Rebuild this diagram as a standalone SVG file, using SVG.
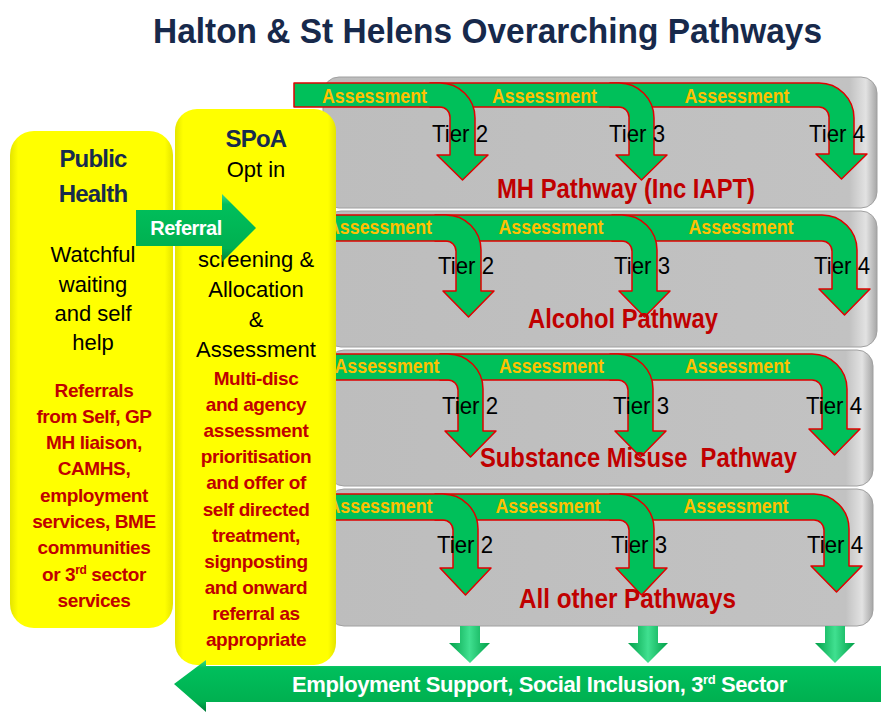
<svg xmlns="http://www.w3.org/2000/svg" width="881" height="712" viewBox="0 0 881 712">
<defs>
<linearGradient id="grayG" x1="0" y1="0" x2="1" y2="0">
<stop offset="0" stop-color="#BDBDBD"/>
<stop offset="0.95" stop-color="#C2C2C2"/>
<stop offset="0.98" stop-color="#E2E2E2"/>
<stop offset="1" stop-color="#A6A6A6"/>
</linearGradient>
<linearGradient id="yelG" x1="0" y1="0" x2="1" y2="0">
<stop offset="0" stop-color="#E4E400"/>
<stop offset="0.05" stop-color="#FFFF00"/>
<stop offset="0.95" stop-color="#FFFF00"/>
<stop offset="1" stop-color="#E4E400"/>
</linearGradient>
<linearGradient id="barG" x1="0" y1="0" x2="0" y2="1">
<stop offset="0" stop-color="#3FD98A"/>
<stop offset="0.15" stop-color="#00BF5C"/>
<stop offset="0.8" stop-color="#00B050"/>
<stop offset="1" stop-color="#007A38"/>
</linearGradient>
<linearGradient id="downG" x1="0" y1="0" x2="1" y2="0">
<stop offset="0" stop-color="#00A048"/>
<stop offset="0.5" stop-color="#40E090"/>
<stop offset="1" stop-color="#00A048"/>
</linearGradient>
<style>
.row{fill:url(#grayG);stroke:#A0A0A0;stroke-width:1}
.band{fill:#00C05A;stroke:#E00000;stroke-width:1.5;stroke-linejoin:round}
.ass{font-family:"Liberation Sans",Arial,sans-serif;font-weight:bold;font-size:20px;fill:#FFC000;text-anchor:middle}
.tier{font-family:"Liberation Sans",Arial,sans-serif;font-size:24px;fill:#000}
.pt{font-family:"Liberation Sans",Arial,sans-serif;font-weight:bold;font-size:27px;fill:#C00000}
.box{fill:url(#yelG)}
.hd{font-family:"Liberation Sans",Arial,sans-serif;font-weight:bold;font-size:24px;fill:#172B4D;text-anchor:middle;letter-spacing:-0.8px}
.bk{font-family:"Liberation Sans",Arial,sans-serif;font-size:22px;fill:#000;text-anchor:middle}
.rd{font-family:"Liberation Sans",Arial,sans-serif;font-weight:bold;font-size:19px;fill:#C00000;text-anchor:middle;letter-spacing:-0.4px}
.down{fill:url(#downG)}
</style>
</defs>
<rect width="881" height="712" fill="#FFFFFF"/>

<g id="title">
<text x="153" y="43" font-family="'Liberation Sans',Arial,sans-serif" font-weight="bold" font-size="35" fill="#17294B" textLength="669" lengthAdjust="spacingAndGlyphs">Halton &amp; St Helens Overarching Pathways</text>
</g>

<g id="row-mh">
<rect class="row" x="323" y="77" width="554" height="131" rx="16"/>
<path class="band" d="M610,83 H819 A35,35 0 0 1 854,118 V154 H867 L841.5,179 L816,154 H829 V117 A10,10 0 0 0 819,107 H610 Z"/>
<path class="band" d="M430,83 H619 A35,35 0 0 1 654,118 V155 H667 L641.5,180 L616,155 H629 V117 A10,10 0 0 0 619,107 H430 Z"/>
<path class="band" d="M294,83 H440 A35,35 0 0 1 475,118 V155 H488 L462.5,180 L437,155 H450 V117 A10,10 0 0 0 440,107 H294 Z"/>
<text class="ass" x="374.5" y="103" textLength="105" lengthAdjust="spacingAndGlyphs">Assessment</text>
<text class="ass" x="544.5" y="103" textLength="105" lengthAdjust="spacingAndGlyphs">Assessment</text>
<text class="ass" x="737" y="103" textLength="105" lengthAdjust="spacingAndGlyphs">Assessment</text>
<text class="tier" x="432" y="142" textLength="56" lengthAdjust="spacingAndGlyphs">Tier 2</text>
<text class="tier" x="609" y="142" textLength="56" lengthAdjust="spacingAndGlyphs">Tier 3</text>
<text class="tier" x="809" y="142" textLength="56" lengthAdjust="spacingAndGlyphs">Tier 4</text>
<text class="pt" x="497" y="198" textLength="258" lengthAdjust="spacingAndGlyphs">MH Pathway (Inc IAPT)</text>
</g>

<g id="row-alcohol">
<rect class="row" x="325" y="211" width="552" height="136" rx="16"/>
<path class="band" d="M612,215 H822 A35,35 0 0 1 857,250 V289 H870 L844.5,315 L819,289 H832 V251 A10,10 0 0 0 822,241 H612 Z"/>
<path class="band" d="M435,215 H622 A35,35 0 0 1 657,250 V291 H670 L644.5,317 L619,291 H632 V251 A10,10 0 0 0 622,241 H435 Z"/>
<path class="band" d="M320,215 H446 A35,35 0 0 1 481,250 V291 H494 L468.5,317 L443,291 H456 V251 A10,10 0 0 0 446,241 H320 Z"/>
<text class="ass" x="379.5" y="234" textLength="105" lengthAdjust="spacingAndGlyphs">Assessment</text>
<text class="ass" x="551" y="234" textLength="105" lengthAdjust="spacingAndGlyphs">Assessment</text>
<text class="ass" x="741" y="234" textLength="105" lengthAdjust="spacingAndGlyphs">Assessment</text>
<text class="tier" x="438" y="274" textLength="56" lengthAdjust="spacingAndGlyphs">Tier 2</text>
<text class="tier" x="614" y="274" textLength="56" lengthAdjust="spacingAndGlyphs">Tier 3</text>
<text class="tier" x="814" y="274" textLength="56" lengthAdjust="spacingAndGlyphs">Tier 4</text>
<text class="pt" x="528" y="328" textLength="190" lengthAdjust="spacingAndGlyphs">Alcohol Pathway</text>
</g>

<g id="row-substance">
<rect class="row" x="328" y="350" width="545" height="136" rx="16"/>
<path class="band" d="M610,354 H812 A35,35 0 0 1 847,389 V429 H860 L834.5,455 L809,429 H822 V390 A10,10 0 0 0 812,380 H610 Z"/>
<path class="band" d="M440,354 H618 A35,35 0 0 1 653,389 V431 H666 L640.5,457 L615,431 H628 V390 A10,10 0 0 0 618,380 H440 Z"/>
<path class="band" d="M320,354 H448 A35,35 0 0 1 483,389 V431 H496 L470.5,457 L445,431 H458 V390 A10,10 0 0 0 448,380 H320 Z"/>
<text class="ass" x="387" y="373" textLength="105" lengthAdjust="spacingAndGlyphs">Assessment</text>
<text class="ass" x="551.5" y="373" textLength="105" lengthAdjust="spacingAndGlyphs">Assessment</text>
<text class="ass" x="737.5" y="373" textLength="105" lengthAdjust="spacingAndGlyphs">Assessment</text>
<text class="tier" x="442" y="414" textLength="56" lengthAdjust="spacingAndGlyphs">Tier 2</text>
<text class="tier" x="613" y="414" textLength="56" lengthAdjust="spacingAndGlyphs">Tier 3</text>
<text class="tier" x="806" y="414" textLength="56" lengthAdjust="spacingAndGlyphs">Tier 4</text>
<text class="pt" x="480" y="467" textLength="317" lengthAdjust="spacingAndGlyphs" xml:space="preserve">Substance Misuse  Pathway</text>
</g>

<g id="row-other">
<rect class="row" x="328" y="489" width="545" height="137" rx="16"/>
<path class="band" d="M610,494 H814 A35,35 0 0 1 849,529 V566 H862 L836.5,592 L811,566 H824 V530 A10,10 0 0 0 814,520 H610 Z"/>
<path class="band" d="M435,494 H619 A35,35 0 0 1 654,529 V568 H667 L641.5,595 L616,568 H629 V530 A10,10 0 0 0 619,520 H435 Z"/>
<path class="band" d="M320,494 H443 A35,35 0 0 1 478,529 V568 H491 L465.5,595 L440,568 H453 V530 A10,10 0 0 0 443,520 H320 Z"/>
<text class="ass" x="380" y="513" textLength="105" lengthAdjust="spacingAndGlyphs">Assessment</text>
<text class="ass" x="548" y="513" textLength="105" lengthAdjust="spacingAndGlyphs">Assessment</text>
<text class="ass" x="736" y="513" textLength="105" lengthAdjust="spacingAndGlyphs">Assessment</text>
<text class="tier" x="437" y="553" textLength="56" lengthAdjust="spacingAndGlyphs">Tier 2</text>
<text class="tier" x="611" y="553" textLength="56" lengthAdjust="spacingAndGlyphs">Tier 3</text>
<text class="tier" x="807" y="553" textLength="56" lengthAdjust="spacingAndGlyphs">Tier 4</text>
<text class="pt" x="519" y="608" textLength="217" lengthAdjust="spacingAndGlyphs">All other Pathways</text>
</g>

<g id="node-public-health">
<rect class="box" x="10" y="131" width="163" height="497" rx="24"/>
<text class="hd" x="93" y="167">Public</text>
<text class="hd" x="93" y="202">Health</text>
<text class="bk" x="93" y="262">Watchful</text>
<text class="bk" x="93" y="292">waiting</text>
<text class="bk" x="93" y="321">and self</text>
<text class="bk" x="93" y="350">help</text>
<text class="rd" x="94" y="397">Referrals</text>
<text class="rd" x="94" y="423">from Self, GP</text>
<text class="rd" x="94" y="449">MH liaison,</text>
<text class="rd" x="94" y="475">CAMHS,</text>
<text class="rd" x="94" y="502">employment</text>
<text class="rd" x="94" y="528">services, BME</text>
<text class="rd" x="94" y="554">communities</text>
<text class="rd" x="94" y="581">or 3<tspan font-size="12" dy="-7">rd</tspan><tspan dy="7"> sector</tspan></text>
<text class="rd" x="94" y="607">services</text>
</g>

<g id="node-spoa">
<rect class="box" x="175" y="109" width="161" height="556" rx="22"/>
<text class="hd" x="256" y="147">SPoA</text>
<text class="bk" x="256" y="177">Opt in</text>
<text class="bk" x="256" y="267">screening &amp;</text>
<text class="bk" x="256" y="297">Allocation</text>
<text class="bk" x="256" y="327">&amp;</text>
<text class="bk" x="256" y="357">Assessment</text>
<text class="rd" x="256" y="385">Multi-disc</text>
<text class="rd" x="256" y="411">and agency</text>
<text class="rd" x="256" y="437">assessment</text>
<text class="rd" x="256" y="463">prioritisation</text>
<text class="rd" x="256" y="489">and offer of</text>
<text class="rd" x="256" y="516">self directed</text>
<text class="rd" x="256" y="542">treatment,</text>
<text class="rd" x="256" y="568">signposting</text>
<text class="rd" x="256" y="594">and onward</text>
<text class="rd" x="256" y="620">referral as</text>
<text class="rd" x="256" y="646">appropriate</text>
</g>

<g id="node-outcomes">
<path d="M881,666 H206 V660 L174,684 L206,712 V702 H881 Z" fill="url(#barG)"/>
<text x="292" y="692" font-family="'Liberation Sans',Arial,sans-serif" font-weight="bold" font-size="22" fill="#FFFFFF" letter-spacing="-0.4">Employment Support, Social Inclusion, 3<tspan font-size="13" dy="-8">rd</tspan><tspan dy="8"> Sector</tspan></text>
</g>

<g id="connectors">
<g id="referral">
<path d="M136,210 H222 V194 L256,228 L222,262 V246 H136 Z" fill="url(#barG)"/>
<text x="186" y="235" font-family="'Liberation Sans',Arial,sans-serif" font-weight="bold" font-size="20" fill="#FFFFFF" text-anchor="middle" letter-spacing="-0.5">Referral</text>
</g>
<path class="down" d="M460,626 H480 V643 H490 L470,663 L449,643 H460 Z"/>
<path class="down" d="M638,626 H658 V643 H668 L648,663 L628,643 H638 Z"/>
<path class="down" d="M825,626 H845 V643 H855 L835,663 L815,643 H825 Z"/>
</g>
</svg>
